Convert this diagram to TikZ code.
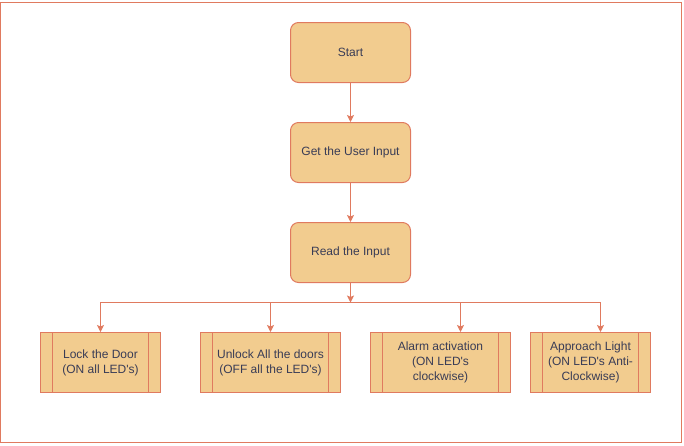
\documentclass[tikz,border=0pt]{standalone}
\usepackage{fontspec}
\setmainfont{Liberation Sans}
\usetikzlibrary{calc, arrows.meta}
\definecolor{boxfill}{HTML}{F2CC8F}
\definecolor{boxline}{HTML}{E07A5F}
\definecolor{boxtext}{HTML}{393C56}

\begin{document}
\begin{tikzpicture}[>={Stealth[length=7pt, width=7pt, inset=1.5pt]}, x=1pt, y=-1pt, line width=1pt, draw=boxline,
  every node/.style={font=\fontsize{12}{15}\selectfont, text=boxtext, align=center},
  roundbox/.style={draw=boxline, fill=boxfill, rounded corners=8pt, minimum width=120pt, minimum height=60pt},
  procbox/.style={draw=boxline, fill=boxfill, minimum width=#1, minimum height=60pt, inner sep=0pt,
    path picture={\draw[boxline, line width=1pt]
      ([xshift=12pt]path picture bounding box.north west) -- ([xshift=12pt]path picture bounding box.south west)
      ([xshift=-12pt]path picture bounding box.north east) -- ([xshift=-12pt]path picture bounding box.south east);}}]
\useasboundingbox (0,0) rectangle (684,445);
\draw[boxline] (0.5,2) rectangle (681,442);

\node[roundbox] (start) at (350.5,52.5) {Start};
\node[roundbox] (input) at (350.5,152.5) {Get the User Input};
\node[roundbox] (read) at (350.5,252.5) {Read the Input};
\coordinate (split) at (350.5,302.5);

\node[procbox=120pt] (lock) at (100.5,362.5) {Lock the Door\\(ON all LED\textquotesingle s)};
\node[procbox=140pt] (unlock) at (270.5,362.5) {Unlock All the doors\\(OFF all the LED\textquotesingle s)};
\node[procbox=140pt] (alarm) at (440.5,362.5) {Alarm activation\\(ON LED\textquotesingle s\\clockwise)};
\node[procbox=120pt] (light) at (590.5,362.5) {Approach Light\\(ON LED\textquotesingle s Anti-\\Clockwise)};

\draw[->, boxline] (start) -- (input);
\draw[->, boxline] (input) -- (read);
\draw[->, boxline] (read) -- (split);
\draw[->, boxline] (split) -| (lock);
\draw[->, boxline] (split) -| (unlock);
\draw[->, boxline] (split) -| ([xshift=20pt]alarm.north);
\draw[->, boxline] (split) -| ([xshift=10pt]light.north);
\end{tikzpicture}
\end{document}
